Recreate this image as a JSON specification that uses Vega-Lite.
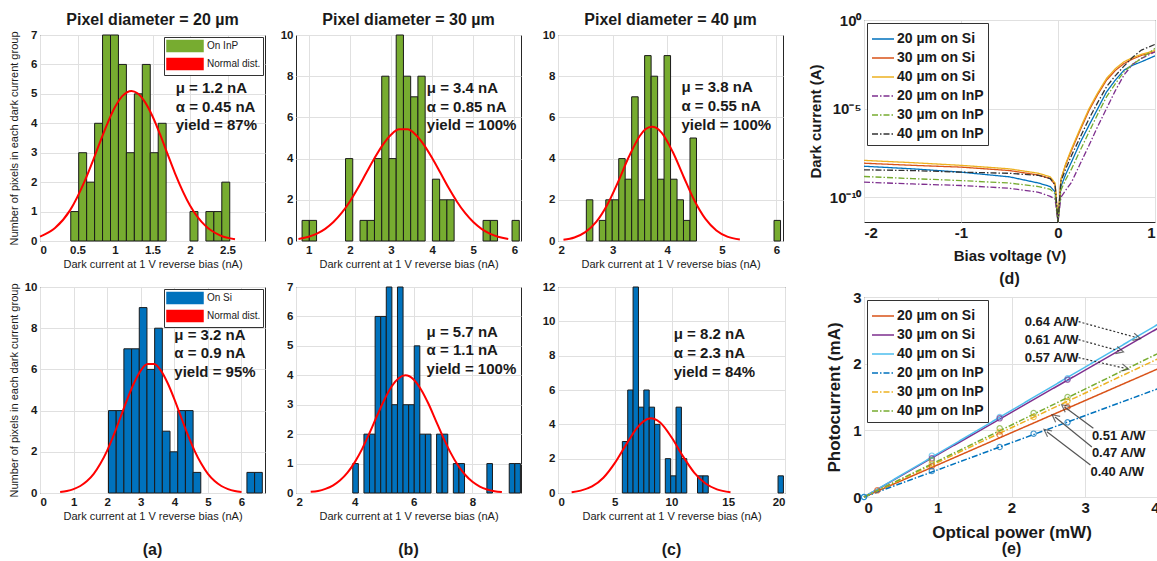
{
"$schema": "https://vega.github.io/schema/vega-lite/v6.json",
"background": "#ffffff",
"padding": {"left": 8, "top": 11, "right": 0, "bottom": 0},
"datasets": {
"aTB": [{"x":0.41,"x1":0.516,"y":1},{"x":0.516,"x1":0.622,"y":3},{"x":0.622,"x1":0.728,"y":2},{"x":0.728,"x1":0.834,"y":4},{"x":0.834,"x1":0.94,"y":7},{"x":0.94,"x1":1.046,"y":7},{"x":1.046,"x1":1.152,"y":6},{"x":1.152,"x1":1.258,"y":3},{"x":1.258,"x1":1.364,"y":5},{"x":1.364,"x1":1.47,"y":6},{"x":1.47,"x1":1.576,"y":3},{"x":1.576,"x1":1.682,"y":4},{"x":2.0,"x1":2.106,"y":1},{"x":2.212,"x1":2.318,"y":1},{"x":2.318,"x1":2.424,"y":1},{"x":2.424,"x1":2.53,"y":2}],
"aTC": [{"x":0,"y":0.15},{"x":0.2,"y":0.44},{"x":0.4,"y":1.04},{"x":0.6,"y":2.06},{"x":0.7,"y":2.69},{"x":0.8,"y":3.36},{"x":0.9,"y":4.0},{"x":1.0,"y":4.55},{"x":1.1,"y":4.93},{"x":1.22,"y":5.1},{"x":1.3,"y":5.02},{"x":1.4,"y":4.72},{"x":1.5,"y":4.24},{"x":1.6,"y":3.63},{"x":1.7,"y":2.96},{"x":1.8,"y":2.3},{"x":2.0,"y":1.21},{"x":2.2,"y":0.53},{"x":2.4,"y":0.19},{"x":2.6,"y":0.06}],
"aTT": [{"x":1.81,"y":5.2,"t":"μ = 1.2 nA"},{"x":1.81,"y":4.56,"t":"α = 0.45 nA"},{"x":1.81,"y":3.94,"t":"yield  = 87%"}],
"aBB": [{"x":2.04,"x1":2.269,"y":4},{"x":2.269,"x1":2.498,"y":4},{"x":2.498,"x1":2.727,"y":7},{"x":2.727,"x1":2.956,"y":7},{"x":2.956,"x1":3.185,"y":9},{"x":3.185,"x1":3.414,"y":6},{"x":3.414,"x1":3.643,"y":8},{"x":3.643,"x1":3.872,"y":3},{"x":3.872,"x1":4.101,"y":2},{"x":4.101,"x1":4.33,"y":4},{"x":4.33,"x1":4.559,"y":4},{"x":4.559,"x1":4.788,"y":1},{"x":6.162,"x1":6.391,"y":1},{"x":6.391,"x1":6.62,"y":1}],
"aBC": [{"x":0.6,"y":0.05},{"x":0.8,"y":0.1},{"x":1.0,"y":0.19},{"x":1.2,"y":0.34},{"x":1.4,"y":0.58},{"x":1.6,"y":0.93},{"x":1.8,"y":1.43},{"x":2.0,"y":2.06},{"x":2.2,"y":2.83},{"x":2.4,"y":3.69},{"x":2.6,"y":4.56},{"x":2.8,"y":5.34},{"x":3.0,"y":5.94},{"x":3.2,"y":6.26},{"x":3.4,"y":6.26},{"x":3.6,"y":5.94},{"x":3.8,"y":5.34},{"x":4.0,"y":4.56},{"x":4.2,"y":3.69},{"x":4.4,"y":2.83},{"x":4.6,"y":2.06},{"x":4.8,"y":1.43},{"x":5.0,"y":0.93},{"x":5.2,"y":0.58},{"x":5.4,"y":0.34},{"x":5.6,"y":0.19},{"x":5.8,"y":0.1},{"x":6.0,"y":0.05}],
"aBT": [{"x":4.0,"y":7.67,"t":"μ = 3.2 nA"},{"x":4.0,"y":6.78,"t":"α = 0.9 nA"},{"x":4.0,"y":5.89,"t":"yield  = 95%"}],
"bTB": [{"x":0.838,"x1":1.014,"y":1},{"x":1.014,"x1":1.19,"y":1},{"x":1.894,"x1":2.07,"y":4},{"x":2.246,"x1":2.422,"y":1},{"x":2.422,"x1":2.598,"y":1},{"x":2.598,"x1":2.774,"y":4},{"x":2.774,"x1":2.95,"y":8},{"x":2.95,"x1":3.126,"y":4},{"x":3.126,"x1":3.302,"y":10},{"x":3.302,"x1":3.478,"y":8},{"x":3.478,"x1":3.654,"y":7},{"x":3.654,"x1":3.83,"y":8},{"x":4.006,"x1":4.182,"y":3},{"x":4.182,"x1":4.358,"y":2},{"x":4.358,"x1":4.534,"y":2},{"x":5.238,"x1":5.414,"y":1},{"x":5.414,"x1":5.59,"y":1},{"x":5.942,"x1":6.118,"y":1}],
"bTC": [{"x":0.75,"y":0.1},{"x":1.0,"y":0.21},{"x":1.2,"y":0.36},{"x":1.4,"y":0.59},{"x":1.6,"y":0.92},{"x":1.8,"y":1.36},{"x":2.0,"y":1.92},{"x":2.2,"y":2.58},{"x":2.4,"y":3.31},{"x":2.6,"y":4.03},{"x":2.8,"y":4.67},{"x":3.0,"y":5.16},{"x":3.2,"y":5.42},{"x":3.4,"y":5.42},{"x":3.6,"y":5.16},{"x":3.8,"y":4.67},{"x":4.0,"y":4.03},{"x":4.2,"y":3.31},{"x":4.4,"y":2.58},{"x":4.6,"y":1.92},{"x":4.8,"y":1.36},{"x":5.0,"y":0.92},{"x":5.2,"y":0.59},{"x":5.4,"y":0.36},{"x":5.6,"y":0.21},{"x":5.85,"y":0.1}],
"bTT": [{"x":3.87,"y":7.41,"t":"μ = 3.4 nA"},{"x":3.87,"y":6.52,"t":"α = 0.85 nA"},{"x":3.87,"y":5.63,"t":"yield  = 100%"}],
"bBB": [{"x":3.93,"x1":4.12,"y":1},{"x":4.31,"x1":4.5,"y":2},{"x":4.5,"x1":4.69,"y":2},{"x":4.69,"x1":4.88,"y":6},{"x":4.88,"x1":5.07,"y":6},{"x":5.07,"x1":5.26,"y":7},{"x":5.26,"x1":5.45,"y":3},{"x":5.45,"x1":5.64,"y":7},{"x":5.64,"x1":5.83,"y":3},{"x":5.83,"x1":6.02,"y":3},{"x":6.02,"x1":6.21,"y":5},{"x":6.21,"x1":6.4,"y":2},{"x":6.4,"x1":6.59,"y":2},{"x":6.78,"x1":6.97,"y":2},{"x":6.97,"x1":7.16,"y":2},{"x":7.35,"x1":7.54,"y":1},{"x":7.54,"x1":7.73,"y":1},{"x":8.49,"x1":8.68,"y":1},{"x":9.25,"x1":9.44,"y":1},{"x":9.44,"x1":9.63,"y":1}],
"bBC": [{"x":2.5,"y":0.04},{"x":2.75,"y":0.07},{"x":3.0,"y":0.14},{"x":3.25,"y":0.25},{"x":3.5,"y":0.43},{"x":3.75,"y":0.69},{"x":4.0,"y":1.05},{"x":4.25,"y":1.5},{"x":4.5,"y":2.04},{"x":4.75,"y":2.61},{"x":5.0,"y":3.16},{"x":5.25,"y":3.62},{"x":5.5,"y":3.91},{"x":5.72,"y":4.0},{"x":6.0,"y":3.86},{"x":6.25,"y":3.52},{"x":6.5,"y":3.04},{"x":6.75,"y":2.47},{"x":7.0,"y":1.9},{"x":7.25,"y":1.38},{"x":7.5,"y":0.95},{"x":7.75,"y":0.62},{"x":8.0,"y":0.38},{"x":8.25,"y":0.22},{"x":8.5,"y":0.12},{"x":8.75,"y":0.06},{"x":9.0,"y":0.03}],
"bBT": [{"x":6.44,"y":5.48,"t":"μ = 5.7 nA"},{"x":6.44,"y":4.86,"t":"α = 1.1 nA"},{"x":6.44,"y":4.2,"t":"yield  = 100%"}],
"cTB": [{"x":2.519,"x1":2.638,"y":2},{"x":2.756,"x1":2.875,"y":1},{"x":2.875,"x1":2.993,"y":2},{"x":2.993,"x1":3.112,"y":2},{"x":3.112,"x1":3.23,"y":4},{"x":3.23,"x1":3.349,"y":3},{"x":3.349,"x1":3.468,"y":7},{"x":3.468,"x1":3.586,"y":2},{"x":3.586,"x1":3.705,"y":9},{"x":3.705,"x1":3.824,"y":8},{"x":3.824,"x1":3.942,"y":3},{"x":3.942,"x1":4.061,"y":9},{"x":4.061,"x1":4.18,"y":3},{"x":4.18,"x1":4.298,"y":2},{"x":4.298,"x1":4.417,"y":1},{"x":4.417,"x1":4.536,"y":5},{"x":5.956,"x1":6.075,"y":1}],
"cTC": [{"x":2.1,"y":0.06},{"x":2.3,"y":0.17},{"x":2.5,"y":0.43},{"x":2.7,"y":0.93},{"x":2.9,"y":1.75},{"x":3.1,"y":2.87},{"x":3.3,"y":4.1},{"x":3.5,"y":5.11},{"x":3.6,"y":5.42},{"x":3.72,"y":5.55},{"x":3.8,"y":5.49},{"x":3.9,"y":5.25},{"x":4.1,"y":4.33},{"x":4.3,"y":3.12},{"x":4.5,"y":1.95},{"x":4.7,"y":1.07},{"x":4.9,"y":0.51},{"x":5.1,"y":0.21},{"x":5.33,"y":0.07}],
"cTT": [{"x":4.26,"y":7.46,"t":"μ = 3.8 nA"},{"x":4.26,"y":6.55,"t":"α = 0.55 nA"},{"x":4.26,"y":5.63,"t":"yield  = 100%"}],
"cBB": [{"x":5.67,"x1":6.143,"y":3},{"x":6.143,"x1":6.616,"y":6},{"x":6.616,"x1":7.089,"y":12},{"x":7.089,"x1":7.562,"y":5},{"x":7.562,"x1":8.035,"y":6},{"x":8.035,"x1":8.508,"y":5},{"x":8.508,"x1":8.981,"y":4},{"x":9.454,"x1":9.927,"y":2},{"x":9.927,"x1":10.4,"y":1},{"x":10.4,"x1":10.873,"y":5},{"x":10.873,"x1":11.346,"y":2},{"x":12.292,"x1":12.765,"y":1},{"x":12.765,"x1":13.238,"y":1},{"x":19.387,"x1":19.86,"y":1}],
"cBC": [{"x":1.2,"y":0.05},{"x":2,"y":0.14},{"x":3,"y":0.38},{"x":4,"y":0.89},{"x":5,"y":1.74},{"x":6,"y":2.82},{"x":7,"y":3.82},{"x":7.5,"y":4.16},{"x":8.2,"y":4.35},{"x":8.5,"y":4.31},{"x":9,"y":4.11},{"x":10,"y":3.25},{"x":11,"y":2.15},{"x":12,"y":1.19},{"x":13,"y":0.55},{"x":14,"y":0.21},{"x":15.2,"y":0.05}],
"cBT": [{"x":10.2,"y":9.26,"t":"μ = 8.2 nA"},{"x":10.2,"y":8.14,"t":"α = 2.3 nA"},{"x":10.2,"y":7.07,"t":"yield  = 84%"}],
"dark": [
{"s":"20 µm on Si","V":-2,"I":5.6e-9},{"s":"20 µm on Si","V":-1.5,"I":4.0e-9},{"s":"20 µm on Si","V":-1,"I":2.6e-9},{"s":"20 µm on Si","V":-0.5,"I":1.41e-9},{"s":"20 µm on Si","V":-0.2,"I":6.3e-10},{"s":"20 µm on Si","V":-0.08,"I":4.0e-10},{"s":"20 µm on Si","V":-0.03,"I":2.0e-10},{"s":"20 µm on Si","V":0,"I":4e-12},{"s":"20 µm on Si","V":0.03,"I":4.0e-10},{"s":"20 µm on Si","V":0.08,"I":2.0e-9},{"s":"20 µm on Si","V":0.14,"I":1e-8},{"s":"20 µm on Si","V":0.23,"I":1.26e-7},{"s":"20 µm on Si","V":0.32,"I":1.15e-6},{"s":"20 µm on Si","V":0.41,"I":1e-5},{"s":"20 µm on Si","V":0.5,"I":8.7e-5},{"s":"20 µm on Si","V":0.59,"I":4.0e-4},{"s":"20 µm on Si","V":0.68,"I":1.48e-3},{"s":"20 µm on Si","V":0.77,"I":2.8e-3},{"s":"20 µm on Si","V":0.86,"I":4.4e-3},{"s":"20 µm on Si","V":1,"I":9.5e-3},
{"s":"30 µm on Si","V":-2,"I":8.3e-9},{"s":"30 µm on Si","V":-1.5,"I":6.3e-9},{"s":"30 µm on Si","V":-1,"I":5.0e-9},{"s":"30 µm on Si","V":-0.5,"I":3.2e-9},{"s":"30 µm on Si","V":-0.2,"I":1.78e-9},{"s":"30 µm on Si","V":-0.08,"I":1.12e-9},{"s":"30 µm on Si","V":-0.03,"I":5.0e-10},{"s":"30 µm on Si","V":0,"I":4e-12},{"s":"30 µm on Si","V":0.03,"I":1e-9},{"s":"30 µm on Si","V":0.08,"I":7.1e-9},{"s":"30 µm on Si","V":0.14,"I":4.5e-8},{"s":"30 µm on Si","V":0.23,"I":6.3e-7},{"s":"30 µm on Si","V":0.32,"I":7.9e-6},{"s":"30 µm on Si","V":0.41,"I":6.3e-5},{"s":"30 µm on Si","V":0.5,"I":4.0e-4},{"s":"30 µm on Si","V":0.59,"I":1.41e-3},{"s":"30 µm on Si","V":0.68,"I":3.5e-3},{"s":"30 µm on Si","V":0.77,"I":6.3e-3},{"s":"30 µm on Si","V":0.86,"I":1e-2},{"s":"30 µm on Si","V":1,"I":1.58e-2},
{"s":"40 µm on Si","V":-2,"I":1.2e-8},{"s":"40 µm on Si","V":-1.5,"I":8.9e-9},{"s":"40 µm on Si","V":-1,"I":6.3e-9},{"s":"40 µm on Si","V":-0.5,"I":4.0e-9},{"s":"40 µm on Si","V":-0.2,"I":2.24e-9},{"s":"40 µm on Si","V":-0.08,"I":1.41e-9},{"s":"40 µm on Si","V":-0.03,"I":6.3e-10},{"s":"40 µm on Si","V":0,"I":4e-12},{"s":"40 µm on Si","V":0.03,"I":1e-9},{"s":"40 µm on Si","V":0.08,"I":7.9e-9},{"s":"40 µm on Si","V":0.14,"I":5.5e-8},{"s":"40 µm on Si","V":0.23,"I":7.9e-7},{"s":"40 µm on Si","V":0.32,"I":1e-5},{"s":"40 µm on Si","V":0.41,"I":7.9e-5},{"s":"40 µm on Si","V":0.5,"I":5.0e-4},{"s":"40 µm on Si","V":0.59,"I":1.78e-3},{"s":"40 µm on Si","V":0.68,"I":4.4e-3},{"s":"40 µm on Si","V":0.77,"I":7.6e-3},{"s":"40 µm on Si","V":0.86,"I":1.15e-2},{"s":"40 µm on Si","V":1,"I":1.9e-2},
{"s":"20 µm on InP","V":-2,"I":7.1e-10},{"s":"20 µm on InP","V":-1.5,"I":5.6e-10},{"s":"20 µm on InP","V":-1,"I":4.6e-10},{"s":"20 µm on InP","V":-0.5,"I":3.2e-10},{"s":"20 µm on InP","V":-0.2,"I":1.9e-10},{"s":"20 µm on InP","V":-0.08,"I":1.12e-10},{"s":"20 µm on InP","V":-0.03,"I":7.9e-11},{"s":"20 µm on InP","V":0,"I":4e-12},{"s":"20 µm on InP","V":0.03,"I":1e-10},{"s":"20 µm on InP","V":0.08,"I":2.5e-10},{"s":"20 µm on InP","V":0.14,"I":7.1e-10},{"s":"20 µm on InP","V":0.23,"I":7.9e-9},{"s":"20 µm on InP","V":0.32,"I":8.5e-8},{"s":"20 µm on InP","V":0.41,"I":1e-6},{"s":"20 µm on InP","V":0.5,"I":1e-5},{"s":"20 µm on InP","V":0.59,"I":1e-4},{"s":"20 µm on InP","V":0.68,"I":7.8e-4},{"s":"20 µm on InP","V":0.77,"I":3.2e-3},{"s":"20 µm on InP","V":0.86,"I":6.8e-3},{"s":"20 µm on InP","V":1,"I":1.6e-2},
{"s":"30 µm on InP","V":-2,"I":1.48e-9},{"s":"30 µm on InP","V":-1.5,"I":1.12e-9},{"s":"30 µm on InP","V":-1,"I":8.7e-10},{"s":"30 µm on InP","V":-0.5,"I":6.3e-10},{"s":"30 µm on InP","V":-0.2,"I":4.0e-10},{"s":"30 µm on InP","V":-0.08,"I":2.8e-10},{"s":"30 µm on InP","V":-0.03,"I":1.58e-10},{"s":"30 µm on InP","V":0,"I":4e-12},{"s":"30 µm on InP","V":0.03,"I":2.5e-10},{"s":"30 µm on InP","V":0.08,"I":1e-9},{"s":"30 µm on InP","V":0.14,"I":4.0e-9},{"s":"30 µm on InP","V":0.23,"I":4.5e-8},{"s":"30 µm on InP","V":0.32,"I":4.8e-7},{"s":"30 µm on InP","V":0.41,"I":5.0e-6},{"s":"30 µm on InP","V":0.5,"I":4.6e-5},{"s":"30 µm on InP","V":0.59,"I":2.5e-4},{"s":"30 µm on InP","V":0.68,"I":1.2e-3},{"s":"30 µm on InP","V":0.77,"I":3.2e-3},{"s":"30 µm on InP","V":0.86,"I":6.8e-3},{"s":"30 µm on InP","V":1,"I":2.5e-2},
{"s":"40 µm on InP","V":-2,"I":3.5e-9},{"s":"40 µm on InP","V":-1.5,"I":3.2e-9},{"s":"40 µm on InP","V":-1,"I":2.6e-9},{"s":"40 µm on InP","V":-0.5,"I":2.24e-9},{"s":"40 µm on InP","V":-0.2,"I":1.7e-9},{"s":"40 µm on InP","V":-0.08,"I":1.12e-9},{"s":"40 µm on InP","V":-0.03,"I":5.0e-10},{"s":"40 µm on InP","V":0,"I":4e-12},{"s":"40 µm on InP","V":0.03,"I":7.9e-10},{"s":"40 µm on InP","V":0.08,"I":4.0e-9},{"s":"40 µm on InP","V":0.14,"I":2.3e-8},{"s":"40 µm on InP","V":0.23,"I":2.5e-7},{"s":"40 µm on InP","V":0.32,"I":2.7e-6},{"s":"40 µm on InP","V":0.41,"I":2.24e-5},{"s":"40 µm on InP","V":0.5,"I":1.7e-4},{"s":"40 µm on InP","V":0.59,"I":7.1e-4},{"s":"40 µm on InP","V":0.68,"I":2.5e-3},{"s":"40 µm on InP","V":0.77,"I":7.9e-3},{"s":"40 µm on InP","V":0.86,"I":2.0e-2},{"s":"40 µm on InP","V":1,"I":4.2e-2}
],
"eLines": [{"s":"20 µm on Si","P":0,"I":0},{"s":"20 µm on Si","P":4,"I":1.93},{"s":"30 µm on Si","P":0,"I":0},{"s":"30 µm on Si","P":4,"I":2.54},{"s":"40 µm on Si","P":0,"I":0},{"s":"40 µm on Si","P":4,"I":2.6},{"s":"20 µm on InP","P":0,"I":0},{"s":"20 µm on InP","P":4,"I":1.63},{"s":"30 µm on InP","P":0,"I":0},{"s":"30 µm on InP","P":4,"I":2.08},{"s":"40 µm on InP","P":0,"I":0},{"s":"40 µm on InP","P":4,"I":2.16}],
"ePts": [{"s":"40 µm on Si","P":0,"I":0},{"s":"40 µm on Si","P":0.92,"I":0.62},{"s":"40 µm on Si","P":1.84,"I":1.2},{"s":"40 µm on Si","P":2.76,"I":1.78},{"s":"30 µm on Si","P":0.92,"I":0.58},{"s":"30 µm on Si","P":1.84,"I":1.18},{"s":"30 µm on Si","P":2.76,"I":1.76},{"s":"40 µm on InP","P":0.92,"I":0.55},{"s":"40 µm on InP","P":1.84,"I":1.03},{"s":"40 µm on InP","P":2.3,"I":1.26},{"s":"40 µm on InP","P":2.76,"I":1.5},{"s":"30 µm on InP","P":0.92,"I":0.5},{"s":"30 µm on InP","P":1.84,"I":0.98},{"s":"30 µm on InP","P":2.3,"I":1.2},{"s":"30 µm on InP","P":2.76,"I":1.44},{"s":"20 µm on Si","P":0.18,"I":0.1},{"s":"20 µm on Si","P":0.92,"I":0.46},{"s":"20 µm on Si","P":1.84,"I":0.93},{"s":"20 µm on Si","P":2.76,"I":1.35},{"s":"20 µm on InP","P":0,"I":0},{"s":"20 µm on InP","P":0.92,"I":0.39},{"s":"20 µm on InP","P":1.84,"I":0.75},{"s":"20 µm on InP","P":2.3,"I":0.95},{"s":"20 µm on InP","P":2.76,"I":1.12}],
"eArrTop": [{"P":2.91,"I":2.63,"P2":3.7,"I2":2.39},{"P":2.91,"I":2.36,"P2":3.47,"I2":2.19},{"P":2.91,"I":2.09,"P2":3.54,"I2":1.93}],
"eHeadTop": [{"P":3.7,"I":2.39},{"P":3.47,"I":2.19},{"P":3.54,"I":1.93}],
"eArrBot": [{"P":3.11,"I":1.03,"P2":2.72,"I2":1.35},{"P":3.09,"I":0.75,"P2":2.59,"I2":1.2},{"P":3.07,"I":0.48,"P2":2.48,"I2":0.98}],
"eHeadBot": [{"P":2.72,"I":1.35},{"P":2.59,"I":1.2},{"P":2.48,"I":0.98}],
"eLab": [{"P":2.18,"I":2.63,"t":"0.64 A/W"},{"P":2.18,"I":2.36,"t":"0.61 A/W"},{"P":2.18,"I":2.09,"t":"0.57 A/W"},{"P":3.09,"I":0.915,"t":"0.51 A/W"},{"P":3.09,"I":0.655,"t":"0.47 A/W"},{"P":3.07,"I":0.38,"t":"0.40 A/W"}]
},
"concat": [
{
"vconcat": [
{"width": 10, "height": 1, "data": {"values": []}, "mark": {"type": "point"}, "view": {"stroke": null}},
{
"hconcat": [
{
"vconcat": [
{
"width": 225, "height": 206,
"title": {"text": "Pixel diameter = 20 µm", "fontSize": 16, "offset": 1, "frame": "group"},
"encoding": {
"x": {"field": "x", "type": "quantitative", "scale": {"domain": [0, 3], "nice": false, "zero": false}, "axis": {"values": [0, 0.5, 1, 1.5, 2, 2.5], "format": "~g"}, "title": "Dark current at 1 V reverse bias (nA)"},
"y": {"field": "y", "type": "quantitative", "scale": {"domain": [0, 7], "nice": false}, "axis": {"values": [0, 1, 2, 3, 4, 5, 6, 7], "minExtent": 16, "titlePadding": 4.5}, "title": "Number of pixels in each dark current group"}
},
"layer": [
{"data": {"name": "aTB"}, "mark": {"type": "rect", "stroke": "#1a1a1a", "strokeWidth": 1},
 "encoding": {"x2": {"field": "x1"}, "y2": {"datum": 0}, "color": {"datum": "On InP", "type": "nominal", "scale": {"domain": ["On InP", "Normal dist."], "range": ["#77AC30", "#FF0000"]},
  "legend": {"title": null, "orient": "top-right", "offset": 2, "symbolType": "M-1,-0.9H5V0.9H-1Z", "symbolSize": 144, "labelFont": "Liberation Sans", "labelFontSize": 10, "labelColor": "#1a1a1a", "fillColor": "#ffffff", "strokeColor": "#333333", "padding": 2, "rowPadding": 0, "labelOffset": 27,
   "encode": {"symbols": {"update": {"shape": {"signal": "datum.value === 'Normal dist.' ? 'M-1,-0.17H5V0.17H-1Z' : 'M-1,-0.9H5V0.9H-1Z'"}, "fill": {"signal": "datum.value === 'Normal dist.' ? '#FF0000' : '#77AC30'"}, "stroke": {"signal": "datum.value === 'Normal dist.' ? '#FF0000' : '#1a1a1a'"}, "strokeWidth": {"value": 1}, "opacity": {"value": 1}}}}}}}},
{"data": {"name": "aTC"}, "mark": {"type": "line", "strokeWidth": 2, "interpolate": "monotone"}, "encoding": {"color": {"datum": "Normal dist.", "type": "nominal"}}},
{"data": {"name": "aTT"}, "mark": {"type": "text", "align": "left", "baseline": "middle", "fontSize": 15, "fontWeight": "bold", "color": "#1a1a1a"}, "encoding": {"text": {"field": "t"}}}
]
},
{
"width": 225, "height": 206,
"title": {"text": "(a)", "orient": "bottom", "fontSize": 16, "offset": 20},
"encoding": {
"x": {"field": "x", "type": "quantitative", "scale": {"domain": [0, 6.7], "nice": false, "zero": false}, "axis": {"values": [0, 1, 2, 3, 4, 5, 6], "format": "~g"}, "title": "Dark current at 1 V reverse bias (nA)"},
"y": {"field": "y", "type": "quantitative", "scale": {"domain": [0, 10], "nice": false}, "axis": {"values": [0, 2, 4, 6, 8, 10], "minExtent": 16, "titlePadding": 4.5}, "title": "Number of pixels in each dark current group"}
},
"layer": [
{"data": {"name": "aBB"}, "mark": {"type": "rect", "stroke": "#1a1a1a", "strokeWidth": 1},
 "encoding": {"x2": {"field": "x1"}, "y2": {"datum": 0}, "color": {"datum": "On Si", "type": "nominal", "scale": {"domain": ["On Si", "Normal dist."], "range": ["#0072BD", "#FF0000"]},
  "legend": {"title": null, "orient": "top-right", "offset": 2, "symbolType": "M-1,-0.9H5V0.9H-1Z", "symbolSize": 144, "labelFont": "Liberation Sans", "labelFontSize": 10, "labelColor": "#1a1a1a", "fillColor": "#ffffff", "strokeColor": "#333333", "padding": 2, "rowPadding": 0, "labelOffset": 27,
   "encode": {"symbols": {"update": {"shape": {"signal": "datum.value === 'Normal dist.' ? 'M-1,-0.17H5V0.17H-1Z' : 'M-1,-0.9H5V0.9H-1Z'"}, "fill": {"signal": "datum.value === 'Normal dist.' ? '#FF0000' : '#0072BD'"}, "stroke": {"signal": "datum.value === 'Normal dist.' ? '#FF0000' : '#1a1a1a'"}, "strokeWidth": {"value": 1}, "opacity": {"value": 1}}}}}}}},
{"data": {"name": "aBC"}, "mark": {"type": "line", "strokeWidth": 2, "interpolate": "monotone"}, "encoding": {"color": {"datum": "Normal dist.", "type": "nominal"}}},
{"data": {"name": "aBT"}, "mark": {"type": "text", "align": "left", "baseline": "middle", "fontSize": 15, "fontWeight": "bold", "color": "#1a1a1a"}, "encoding": {"text": {"field": "t"}}}
]
}
],
"spacing": 46, "bounds": "flush",
"resolve": {"scale": {"color": "independent"}, "legend": {"color": "independent"}}
},
{
"vconcat": [
{
"width": 225, "height": 206,
"title": {"text": "Pixel diameter = 30 µm", "fontSize": 16, "offset": 1, "frame": "group"},
"encoding": {
"x": {"field": "x", "type": "quantitative", "scale": {"domain": [0.69, 6.16], "nice": false, "zero": false}, "axis": {"values": [1, 2, 3, 4, 5, 6], "format": "~g"}, "title": "Dark current at 1 V reverse bias (nA)"},
"y": {"field": "y", "type": "quantitative", "scale": {"domain": [0, 10], "nice": false}, "axis": {"values": [0, 2, 4, 6, 8, 10], "minExtent": 21}, "title": null}
},
"layer": [
{"data": {"name": "bTB"}, "mark": {"type": "rect", "fill": "#77AC30", "stroke": "#1a1a1a", "strokeWidth": 1}, "encoding": {"x2": {"field": "x1"}, "y2": {"datum": 0}}},
{"data": {"name": "bTC"}, "mark": {"type": "line", "strokeWidth": 2, "color": "#FF0000", "interpolate": "monotone"}},
{"data": {"name": "bTT"}, "mark": {"type": "text", "align": "left", "baseline": "middle", "fontSize": 15, "fontWeight": "bold", "color": "#1a1a1a"}, "encoding": {"text": {"field": "t"}}}
]
},
{
"width": 225, "height": 206,
"title": {"text": "(b)", "orient": "bottom", "fontSize": 16, "offset": 20},
"encoding": {
"x": {"field": "x", "type": "quantitative", "scale": {"domain": [2, 9.65], "nice": false, "zero": false}, "axis": {"values": [2, 4, 6, 8], "format": "~g"}, "title": "Dark current at 1 V reverse bias (nA)"},
"y": {"field": "y", "type": "quantitative", "scale": {"domain": [0, 7], "nice": false}, "axis": {"values": [0, 1, 2, 3, 4, 5, 6, 7], "minExtent": 21}, "title": null}
},
"layer": [
{"data": {"name": "bBB"}, "mark": {"type": "rect", "fill": "#0072BD", "stroke": "#1a1a1a", "strokeWidth": 1}, "encoding": {"x2": {"field": "x1"}, "y2": {"datum": 0}}},
{"data": {"name": "bBC"}, "mark": {"type": "line", "strokeWidth": 2, "color": "#FF0000", "interpolate": "monotone"}},
{"data": {"name": "bBT"}, "mark": {"type": "text", "align": "left", "baseline": "middle", "fontSize": 15, "fontWeight": "bold", "color": "#1a1a1a"}, "encoding": {"text": {"field": "t"}}}
]
}
],
"spacing": 46, "bounds": "flush"
},
{
"vconcat": [
{
"width": 225, "height": 206,
"title": {"text": "Pixel diameter = 40 µm", "fontSize": 16, "offset": 1, "frame": "group"},
"encoding": {
"x": {"field": "x", "type": "quantitative", "scale": {"domain": [2, 6.12], "nice": false, "zero": false}, "axis": {"values": [2, 3, 4, 5, 6], "format": "~g"}, "title": "Dark current at 1 V reverse bias (nA)"},
"y": {"field": "y", "type": "quantitative", "scale": {"domain": [0, 10], "nice": false}, "axis": {"values": [0, 2, 4, 6, 8, 10], "minExtent": 27.5}, "title": null}
},
"layer": [
{"data": {"name": "cTB"}, "mark": {"type": "rect", "fill": "#77AC30", "stroke": "#1a1a1a", "strokeWidth": 1}, "encoding": {"x2": {"field": "x1"}, "y2": {"datum": 0}}},
{"data": {"name": "cTC"}, "mark": {"type": "line", "strokeWidth": 2, "color": "#FF0000", "interpolate": "monotone"}},
{"data": {"name": "cTT"}, "mark": {"type": "text", "align": "left", "baseline": "middle", "fontSize": 15, "fontWeight": "bold", "color": "#1a1a1a"}, "encoding": {"text": {"field": "t"}}}
]
},
{
"width": 227, "height": 206,
"title": {"text": "(c)", "orient": "bottom", "fontSize": 16, "offset": 20},
"encoding": {
"x": {"field": "x", "type": "quantitative", "scale": {"domain": [0, 20], "nice": false, "zero": false}, "axis": {"values": [0, 5, 10, 15, 20], "format": "~g"}, "title": "Dark current at 1 V reverse bias (nA)"},
"y": {"field": "y", "type": "quantitative", "scale": {"domain": [0, 12], "nice": false}, "axis": {"values": [0, 2, 4, 6, 8, 10, 12], "minExtent": 27.5}, "title": null}
},
"layer": [
{"data": {"name": "cBB"}, "mark": {"type": "rect", "fill": "#0072BD", "stroke": "#1a1a1a", "strokeWidth": 1}, "encoding": {"x2": {"field": "x1"}, "y2": {"datum": 0}}},
{"data": {"name": "cBC"}, "mark": {"type": "line", "strokeWidth": 2, "color": "#FF0000", "interpolate": "monotone"}},
{"data": {"name": "cBT"}, "mark": {"type": "text", "align": "left", "baseline": "middle", "fontSize": 15, "fontWeight": "bold", "color": "#1a1a1a"}, "encoding": {"text": {"field": "t"}}}
]
}
],
"spacing": 46, "bounds": "flush"
}
],
"spacing": 8,
"resolve": {"scale": {"color": "independent"}, "legend": {"color": "independent"}}
}
],
"spacing": 14, "bounds": "flush",
"resolve": {"scale": {"color": "independent"}, "legend": {"color": "independent"}}
},
{
"vconcat": [
{
"width": 291, "height": 202,
"title": {"text": "(d)", "orient": "bottom", "fontSize": 16, "offset": 8},
"data": {"name": "dark"},
"mark": {"type": "line", "strokeWidth": 1.3, "clip": true},
"encoding": {
"x": {"field": "V", "type": "quantitative", "scale": {"domain": [-2, 1], "nice": false, "zero": false}, "axis": {"values": [-2, -1, 0, 1], "labelExpr": "'' + datum.value", "labelFontSize": 15, "titleFontSize": 15, "titleFontWeight": "bold", "titleFont": "Liberation Sans", "titlePadding": 8}, "title": "Bias voltage (V)"},
"y": {"field": "I", "type": "quantitative", "scale": {"type": "log", "domain": [4e-12, 1], "nice": false, "clamp": true}, "axis": {"values": [1e-10, 1e-5, 1], "labelExpr": "datum.value > 0.5 ? '10⁰' : (datum.value > 1e-7 ? '10⁻⁵' : '10⁻¹⁰')", "labelFontSize": 15, "titleFontSize": 15, "titleFontWeight": "bold", "titleFont": "Liberation Sans", "minExtent": 38, "titlePadding": 3}, "title": "Dark current (A)"},
"color": {"field": "s", "type": "nominal", "scale": {"domain": ["20 µm on Si", "30 µm on Si", "40 µm on Si", "20 µm on InP", "30 µm on InP", "40 µm on InP"], "range": ["#0072BD", "#D95319", "#EDB120", "#7E2F8E", "#77AC30", "#333333"]},
 "legend": {"title": null, "orient": "top-left", "offset": 3, "symbolType": "stroke", "symbolSize": 484, "symbolStrokeWidth": 1.5, "labelFontSize": 14, "labelFontWeight": "bold", "labelColor": "#1a1a1a", "fillColor": "#ffffff", "strokeColor": "#333333", "padding": 4, "rowPadding": 0, "labelOffset": 2}},
"strokeDash": {"field": "s", "type": "nominal", "scale": {"domain": ["20 µm on Si", "30 µm on Si", "40 µm on Si", "20 µm on InP", "30 µm on InP", "40 µm on InP"], "range": [[1, 0], [1, 0], [1, 0], [6, 2, 1.5, 2], [6, 2, 1.5, 2], [6, 2, 1.5, 2]]},
 "legend": {"title": null, "orient": "top-left", "offset": 3, "symbolType": "stroke", "symbolSize": 484, "symbolStrokeWidth": 1.5, "labelFontSize": 14, "labelFontWeight": "bold", "labelColor": "#1a1a1a", "fillColor": "#ffffff", "strokeColor": "#333333", "padding": 4, "rowPadding": 0, "labelOffset": 2}}
}
},
{
"width": 295, "height": 200,
"title": {"text": "(e)", "orient": "bottom", "fontSize": 16, "offset": 1},
"encoding": {
"x": {"field": "P", "type": "quantitative", "scale": {"domain": [0, 4], "nice": false, "zero": false}, "axis": {"values": [0, 1, 2, 3, 4], "labelFontSize": 15, "titleFontSize": 17, "titleFontWeight": "bold", "titleFont": "Liberation Sans", "titlePadding": 9}, "title": "Optical power (mW)"},
"y": {"field": "I", "type": "quantitative", "scale": {"domain": [0, 3], "nice": false}, "axis": {"values": [0, 1, 2, 3], "labelFontSize": 15, "titleFontSize": 17, "titleFontWeight": "bold", "titleFont": "Liberation Sans", "minExtent": 12, "titlePadding": 9}, "title": "Photocurrent (mA)"}
},
"layer": [
{"data": {"name": "eLines"}, "mark": {"type": "line", "strokeWidth": 1.5},
 "encoding": {
 "color": {"field": "s", "type": "nominal", "scale": {"domain": ["20 µm on Si", "30 µm on Si", "40 µm on Si", "20 µm on InP", "30 µm on InP", "40 µm on InP"], "range": ["#D95319", "#7E2F8E", "#4DBEEE", "#0072BD", "#EDB120", "#77AC30"]},
  "legend": {"title": null, "orient": "top-left", "offset": 3, "symbolType": "stroke", "symbolSize": 484, "symbolStrokeWidth": 1.5, "labelFontSize": 14, "labelFontWeight": "bold", "labelColor": "#1a1a1a", "fillColor": "#ffffff", "strokeColor": "#333333", "padding": 4, "rowPadding": 0, "labelOffset": 2}},
 "strokeDash": {"field": "s", "type": "nominal", "scale": {"domain": ["20 µm on Si", "30 µm on Si", "40 µm on Si", "20 µm on InP", "30 µm on InP", "40 µm on InP"], "range": [[1, 0], [1, 0], [1, 0], [6, 2, 1.5, 2], [6, 2, 1.5, 2], [6, 2, 1.5, 2]]},
  "legend": {"title": null, "orient": "top-left", "offset": 3, "symbolType": "stroke", "symbolSize": 484, "symbolStrokeWidth": 1.5, "labelFontSize": 14, "labelFontWeight": "bold", "labelColor": "#1a1a1a", "fillColor": "#ffffff", "strokeColor": "#333333", "padding": 4, "rowPadding": 0, "labelOffset": 2}}
 }},
{"data": {"name": "ePts"}, "mark": {"type": "point", "shape": "circle", "filled": false, "size": 28, "strokeWidth": 1.2}, "encoding": {"color": {"field": "s", "type": "nominal", "legend": null}}},
{"data": {"name": "eArrTop"}, "mark": {"type": "rule", "strokeDash": [2, 2], "color": "#333333", "strokeWidth": 1.2}, "encoding": {"x2": {"field": "P2"}, "y2": {"field": "I2"}}},
{"data": {"name": "eHeadTop"}, "mark": {"type": "point", "shape": "M-0.6,0.6L0,-0.6L0.6,0.6", "angle": 104, "size": 150, "filled": false, "color": "#333333", "strokeWidth": 1.2}},
{"data": {"name": "eArrBot"}, "mark": {"type": "rule", "color": "#555555", "strokeWidth": 1.2}, "encoding": {"x2": {"field": "P2"}, "y2": {"field": "I2"}}},
{"data": {"name": "eHeadBot"}, "mark": {"type": "point", "shape": "M-0.6,0.6L0,-0.6L0.6,0.6", "angle": 308, "size": 150, "filled": false, "color": "#333333", "strokeWidth": 1.2}},
{"data": {"name": "eLab"}, "mark": {"type": "text", "align": "left", "baseline": "middle", "fontSize": 13, "fontWeight": "bold", "color": "#1a1a1a"}, "encoding": {"text": {"field": "t"}}}
]
}
],
"spacing": 75, "bounds": "flush",
"resolve": {"scale": {"color": "independent", "strokeDash": "independent"}, "legend": {"color": "independent", "strokeDash": "independent"}}
}
],
"columns": 2,
"align": "none",
"spacing": 21,
"resolve": {"scale": {"color": "independent", "strokeDash": "independent"}, "legend": {"color": "independent", "strokeDash": "independent"}},
"config": {
"font": "Liberation Sans",
"view": {"stroke": "#262626", "strokeWidth": 1},
"axis": {"grid": true, "gridColor": "#e0e0e0", "domain": false, "ticks": false, "labelFontSize": 11.5, "labelFontWeight": "bold", "labelColor": "#1a1a1a", "labelPadding": 3, "titleFont": "Liberation Sans", "titleFontSize": 11, "titleFontWeight": "normal", "titleColor": "#1a1a1a", "titlePadding": 3},
"title": {"font": "Liberation Sans", "fontWeight": "bold", "color": "#1a1a1a", "fontSize": 16},
"legend": {"labelColor": "#1a1a1a"}
}
}
